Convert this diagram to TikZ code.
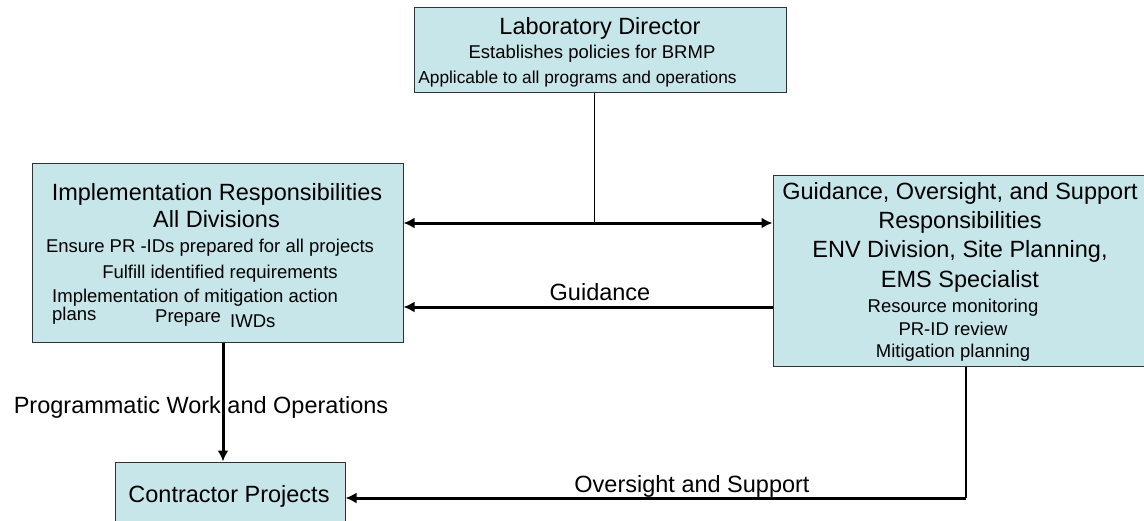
\documentclass[tikz,border=0pt]{standalone}
\usepackage{fontspec}
\setmainfont{Liberation Sans}
\usetikzlibrary{arrows.meta}

\definecolor{boxfill}{RGB}{199,230,234}
\definecolor{boxline}{RGB}{50,50,50}

\begin{document}
\begin{tikzpicture}
  [x=1pt,y=-1pt,
   box/.style={rectangle,draw=boxline,fill=boxfill,line width=1pt,inner sep=0pt},
   big/.style={anchor=base,inner sep=0pt,font=\fontsize{23.5}{26}\selectfont},
   small/.style={anchor=base,inner sep=0pt,font=\fontsize{18.5}{21}\selectfont},
   link/.style={line width=3pt,-{Latex[length=11pt,width=11pt]}},
   dlink/.style={line width=3pt,{Latex[length=11pt,width=11pt]}-{Latex[length=11pt,width=11pt]}}]
  \clip (0,0) rectangle (1144,520);
  % boxes
  \node[box,minimum width=372,minimum height=85] (director) at (600,49.5) {};
  \node[box,minimum width=371,minimum height=179] (impl) at (217.5,252.5) {};
  \node[box,minimum width=374,minimum height=191] (guide) at (960,270.5) {};
  \node[box,minimum width=230,minimum height=68] (contractor) at (230,496) {};
  % director text
  \node[big] (dir1) at (600,34) {Laboratory Director};
  \node[small] (dir2) at (592,58) {Establishes policies for BRMP};
  \node[small,font=\fontsize{17.3}{20}\selectfont] (dir3) at (577.5,83) {Applicable to all programs and operations};
  % implementation text
  \node[big] (impl1) at (217,200) {Implementation Responsibilities};
  \node[big] (impl2) at (216.5,227) {All Divisions};
  \node[small] (impl3) at (210,252) {Ensure PR -IDs prepared for all projects};
  \node[small] (impl4) at (220,278) {Fulfill identified requirements};
  \node[small,anchor=base west] (impl5) at (52,302) {Implementation of mitigation action};
  \node[small,anchor=base west] (impl6) at (52,320) {plans};
  \node[small,anchor=base west] (impl7) at (155,322) {Prepare};
  \node[small,anchor=base west] (impl8) at (230,327) {IWDs};
  % guidance text
  \node[big] (guide1) at (960,199) {Guidance, Oversight, and Support};
  \node[big] (guide2) at (960,228) {Responsibilities};
  \node[big] (guide3) at (960,257) {ENV Division, Site Planning,};
  \node[big] (guide4) at (960,287) {EMS Specialist};
  \node[small] (guide5) at (953,312) {Resource monitoring};
  \node[small] (guide6) at (953,335) {PR-ID review};
  \node[small] (guide7) at (953,357) {Mitigation planning};
  % contractor text
  \node[big] (contr1) at (229,502) {Contractor Projects};
  % connectors
  \coordinate (drop) at (594,223);
  \coordinate (gline) at (600,307);
  \coordinate (work) at (223,400);
  \coordinate (corner) at (966,498);
  \draw[line width=1pt] (director.south -| drop) -- (drop);
  \draw[dlink] (impl.east |- drop) -- (guide.west |- drop);
  \node[big] (guidelabel) at (600,300) {Guidance};
  \draw[link] (guide.west |- gline) -- (impl.east |- gline);
  \node[big] (worklabel) at (201,413) {Programmatic Work and Operations};
  \draw[link] (impl.south -| work) -- (contractor.north -| work);
  \node[big] (overlabel) at (692,492) {Oversight and Support};
  \draw[line width=1.3pt] (guide.south -| corner) -- (corner);
  \draw[link] (corner) -- (contractor.east |- corner);
\end{tikzpicture}
\end{document}
